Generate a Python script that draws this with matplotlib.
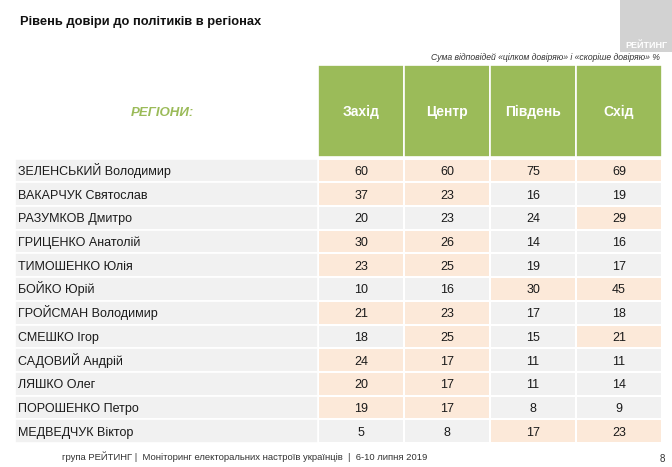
import matplotlib.pyplot as plt
from matplotlib.colors import ListedColormap
import numpy as np

plt.rcParams["font.family"] = ["Liberation Sans", "DejaVu Sans"]

# data
regions = ["Захід", "Центр", "Південь", "Схід"]
politicians = [
    "ЗЕЛЕНСЬКИЙ Володимир",
    "ВАКАРЧУК Святослав",
    "РАЗУМКОВ Дмитро",
    "ГРИЦЕНКО Анатолій",
    "ТИМОШЕНКО Юлія",
    "БОЙКО Юрій",
    "ГРОЙСМАН Володимир",
    "СМЕШКО Ігор",
    "САДОВИЙ Андрій",
    "ЛЯШКО Олег",
    "ПОРОШЕНКО Петро",
    "МЕДВЕДЧУК Віктор",
]
trust_west = [60, 37, 20, 30, 23, 10, 21, 18, 24, 20, 19, 5]
trust_center = [60, 23, 23, 26, 25, 16, 23, 25, 17, 17, 17, 8]
trust_south = [75, 16, 24, 14, 19, 30, 17, 15, 11, 11, 8, 17]
trust_east = [69, 19, 29, 16, 17, 45, 18, 21, 11, 14, 9, 23]
# 1 = highlighted cell (peach)
highlight = [
    [1, 1, 1, 1],
    [1, 1, 0, 0],
    [0, 0, 0, 1],
    [1, 1, 0, 0],
    [1, 1, 0, 0],
    [0, 0, 1, 1],
    [1, 1, 0, 0],
    [0, 1, 0, 1],
    [1, 1, 0, 0],
    [1, 1, 0, 0],
    [1, 1, 0, 0],
    [0, 0, 1, 1],
]

GREEN = "#9bbb59"
PEACH = "#fce9d9"
GRAY = "#f1f1f1"

W, H = 672, 467
fig = plt.figure(figsize=(W / 100, H / 100), dpi=100)
fig.patch.set_facecolor("white")

# table axes: x from name column (15px) to 662px, y from header top (65px) to 443px
name_w = 303 / 86
header_h = 3.95
ax = fig.add_axes([15 / W, 1 - 443 / H, (662 - 15) / W, (443 - 65) / H])
ax.set_xlim(-name_w, 4)
ax.set_ylim(12, -header_h)
ax.axis("off")

values = np.array([trust_west, trust_center, trust_south, trust_east]).T
n_rows = len(politicians)
base = 0.69  # baseline position inside a row, so accents do not shift text

# number cells
ax.pcolormesh(
    np.arange(5), np.arange(n_rows + 1), np.array(highlight),
    cmap=ListedColormap([GRAY, PEACH]), vmin=0, vmax=1,
    edgecolors="white", linewidth=1.2,
)
for r in range(n_rows):
    for c in range(4):
        ax.text(c + 0.5, r + base, str(values[r, c]), ha="center", va="baseline",
                fontsize=9, color="#1a1a1a")

# name column
ax.barh(np.arange(n_rows), name_w, left=-name_w, height=1, align="edge",
        color=GRAY, edgecolor="white", linewidth=1.2)
for r, name in enumerate(politicians):
    ax.text(-name_w + 0.03, r + base, name, ha="left", va="baseline",
            fontsize=9, color="#1a1a1a")

# header
ax.bar(np.arange(4), header_h - 0.08, bottom=-header_h, width=1, align="edge",
       color=GREEN, edgecolor="white", linewidth=1.2)
for c, reg in enumerate(regions):
    ax.text(c + 0.5, -header_h / 2 + 0.18, reg, ha="center", va="baseline",
            fontsize=10, fontweight="bold", color="white")
ax.text(-name_w / 2 - 0.05, -header_h / 2 + 0.18, "РЕГІОНИ:", ha="center",
        va="baseline", fontsize=9.5, fontweight="bold", fontstyle="italic",
        color=GREEN)

# titles and footer
fig.text(20 / W, 1 - 22 / H, "Рівень довіри до політиків в регіонах",
         ha="left", va="center", fontsize=9.3, fontweight="bold", color="#111111")
fig.text(660 / W, 1 - 57 / H, "Сума відповідей «цілком довіряю» і «скоріше довіряю» %",
         ha="right", va="center", fontsize=6.2, fontstyle="italic", color="#333333")
fig.text(62 / W, 1 - 457 / H,
         "група РЕЙТИНГ |  Моніторинг електоральних настроїв українців  |  6-10 липня 2019",
         ha="left", va="center", fontsize=6.8, color="#333333")
fig.text(662 / W, 1 - 459 / H, "8", ha="center", va="center", fontsize=7, color="#333333")

# logo block
logo = fig.add_axes([620 / W, 1 - 52 / H, 52 / W, 52 / H])
logo.set_facecolor("#d2d2d2")
logo.set_xticks([])
logo.set_yticks([])
for s in logo.spines.values():
    s.set_visible(False)
logo.text(0.5, 0.13, "РЕЙТИНГ", ha="center", va="center", fontsize=6.5,
          fontweight="bold", color="white", transform=logo.transAxes)

fig.savefig("out.png", dpi=100)
